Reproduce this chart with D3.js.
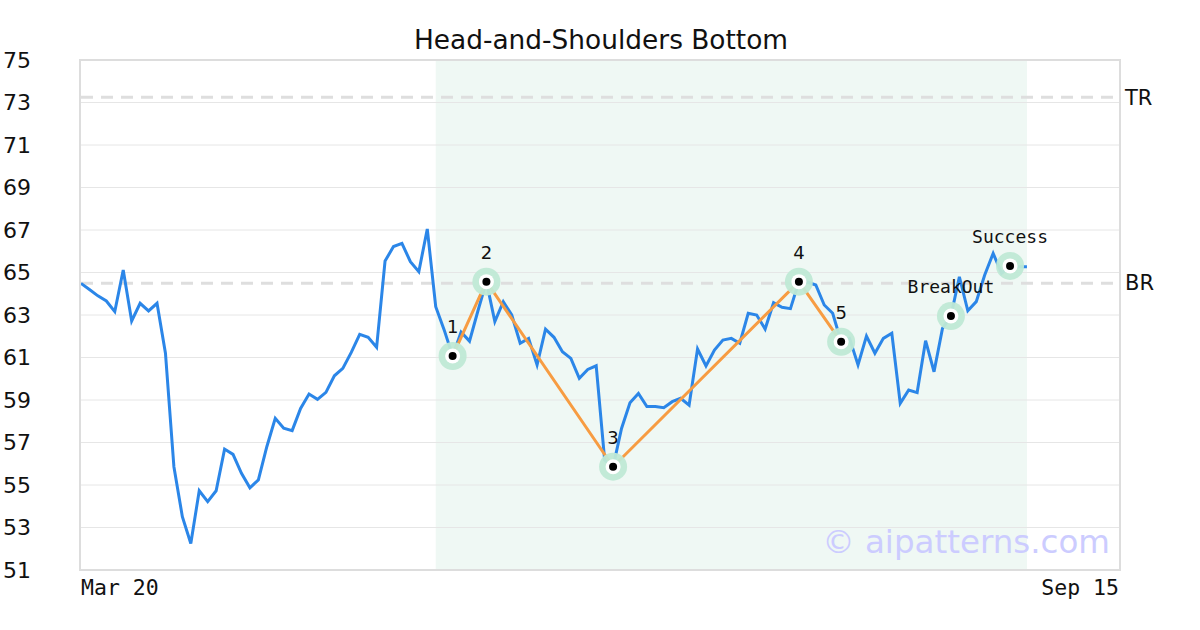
<!DOCTYPE html>
<html>
<head>
<meta charset="utf-8">
<script src="https://cdn.jsdelivr.net/npm/d3@7"></script>
<style>
  html, body { margin: 0; padding: 0; background: #fff; }
  svg { display: block; }
</style>
</head>
<body>
<svg id="chart" width="1200" height="630"></svg>
<script>
// ---- data ----
const prices = [
  64.49, 64.2, 63.9, 63.66, 63.16, 65.12, 62.72, 63.55, 63.19, 63.55,
  61.2, 55.86, 53.51, 52.25, 54.73, 54.22, 54.73, 56.69, 56.44, 55.55,
  54.87, 55.24, 56.8, 58.14, 57.67, 57.56, 58.6, 59.28, 59.03, 59.36,
  60.14, 60.49, 61.24, 62.09, 61.95, 61.48, 65.54, 66.22, 66.37, 65.51,
  65.04, 67.05, 63.39, 62.3, 61.07, 62.2, 61.77, 63.2, 64.57, 62.69,
  63.63, 63.0, 61.67, 61.9, 60.65, 62.33, 61.95, 61.27, 60.96, 60.02,
  60.44, 60.61, 56.18, 55.86, 57.66, 58.87, 59.31, 58.69, 58.69, 58.64,
  58.92, 59.08, 58.76, 61.4, 60.6, 61.35, 61.82, 61.9, 61.67, 63.08,
  63.0, 62.34, 63.58, 63.36, 63.3, 64.57, 64.55, 64.41, 63.47, 63.08,
  61.74, 61.9, 60.65, 62.01, 61.2, 61.9, 62.14, 58.84, 59.47, 59.35,
  61.79, 60.33, 62.37, 62.95, 64.8, 63.2, 63.63, 64.88, 65.9, 64.96,
  65.31, 65.27, 65.27
];
const patternIdx = [44, 48, 63, 85, 90];
const patternLabels = ["1", "2", "3", "4", "5"];
const eventIdx = [103, 110];
const eventLabels = ["BreakOut", "Success"];
const shadeRange = [42, 112];
const levelValues = [73.25, 64.5];
const levelLabels = ["TR", "BR"];
const yTicks = [51, 53, 55, 57, 59, 61, 63, 65, 67, 69, 71, 73, 75];
const xLabels = ["Mar 20", "Sep 15"];
const titleText = "Head-and-Shoulders Bottom";
const watermark = "\u00A9 aipatterns.com";

// ---- layout ----
const svg = d3.select("#chart");
const L = 81, R = 1119, T = 60, B = 570;
const x = d3.scaleLinear().domain([0, 122.9]).range([L, R]);
const y = d3.scaleLinear().domain([51, 75]).range([B, T]);
const sans = "'DejaVu Sans', Verdana, sans-serif";
const mono = "'DejaVu Sans Mono', monospace";

// shaded pattern region
svg.append("rect")
  .attr("x", x(shadeRange[0])).attr("y", T)
  .attr("width", x(shadeRange[1]) - x(shadeRange[0]))
  .attr("height", B - T)
  .attr("fill", "#eff8f4");

// gridlines
svg.append("g").selectAll("line").data(yTicks).join("line")
  .attr("x1", L).attr("x2", R)
  .attr("y1", d => y(d)).attr("y2", d => y(d))
  .attr("stroke", "#e6e6e6").attr("stroke-width", 1);

// y tick labels
svg.append("g").selectAll("text").data(yTicks).join("text")
  .attr("x", 31).attr("y", d => y(d))
  .attr("dy", "0.35em")
  .attr("text-anchor", "end")
  .attr("font-family", sans).attr("font-size", 22)
  .attr("fill", "#111")
  .text(d => d);

// level lines
svg.append("g").selectAll("line").data(levelValues).join("line")
  .attr("x1", L).attr("x2", R)
  .attr("y1", d => y(d)).attr("y2", d => y(d))
  .attr("stroke", "#dedede").attr("stroke-width", 3)
  .attr("stroke-dasharray", "12,8");
svg.append("g").selectAll("text").data(levelValues).join("text")
  .attr("x", 1125).attr("y", d => y(d))
  .attr("dy", "0.35em")
  .attr("font-family", sans).attr("font-size", 21)
  .attr("fill", "#111")
  .text((d, i) => levelLabels[i]);

// watermark
svg.append("text")
  .attr("x", 1110).attr("y", 553)
  .attr("text-anchor", "end")
  .attr("font-family", sans).attr("font-size", 32.5)
  .attr("fill", "#ccccff")
  .text(watermark);

// price line
svg.append("path")
  .datum(prices)
  .attr("fill", "none")
  .attr("stroke", "#2b86e8")
  .attr("stroke-width", 3)
  .attr("stroke-linejoin", "miter")
  .attr("d", d3.line().x((d, i) => x(i)).y(d => y(d)));

// pattern lines
svg.append("path")
  .datum(patternIdx)
  .attr("fill", "none")
  .attr("stroke", "#f79c42")
  .attr("stroke-width", 3)
  .attr("d", d3.line().x(i => x(i)).y(i => y(prices[i])));

// markers
const markIdx = patternIdx.concat(eventIdx);
const mk = svg.append("g").selectAll("g").data(markIdx).join("g")
  .attr("transform", i => `translate(${x(i)},${y(prices[i])})`);
mk.append("circle").attr("r", 14).attr("fill", "#bfe9d5").attr("fill-opacity", 0.95);
mk.append("circle").attr("r", 7.5).attr("fill", "#fff");
mk.append("circle").attr("r", 4).attr("fill", "#000");

// pattern labels
svg.append("g").selectAll("text").data(patternIdx).join("text")
  .attr("x", i => x(i)).attr("y", i => y(prices[i]) - 23)
  .attr("text-anchor", "middle")
  .attr("font-family", sans).attr("font-size", 18)
  .attr("fill", "#111")
  .text((d, k) => patternLabels[k]);

svg.append("g").selectAll("text").data(eventIdx).join("text")
  .attr("x", i => x(i)).attr("y", i => y(prices[i]) - 23)
  .attr("text-anchor", "middle")
  .attr("font-family", mono).attr("font-size", 18)
  .attr("fill", "#111")
  .text((d, k) => eventLabels[k]);

// border
svg.append("rect")
  .attr("x", L - 1).attr("y", T).attr("width", R - L + 2).attr("height", B - T)
  .attr("fill", "none").attr("stroke", "#dddddd").attr("stroke-width", 2);

// x labels
svg.append("text")
  .attr("x", L).attr("y", 595)
  .attr("font-family", mono).attr("font-size", 21.5).attr("fill", "#111")
  .text(xLabels[0]);
svg.append("text")
  .attr("x", R).attr("y", 595)
  .attr("text-anchor", "end")
  .attr("font-family", mono).attr("font-size", 21.5).attr("fill", "#111")
  .text(xLabels[1]);

// title
svg.append("text")
  .attr("x", 601).attr("y", 49)
  .attr("text-anchor", "middle")
  .attr("font-family", sans).attr("font-size", 26.4).attr("fill", "#111")
  .text(titleText);
</script>
</body>
</html>
